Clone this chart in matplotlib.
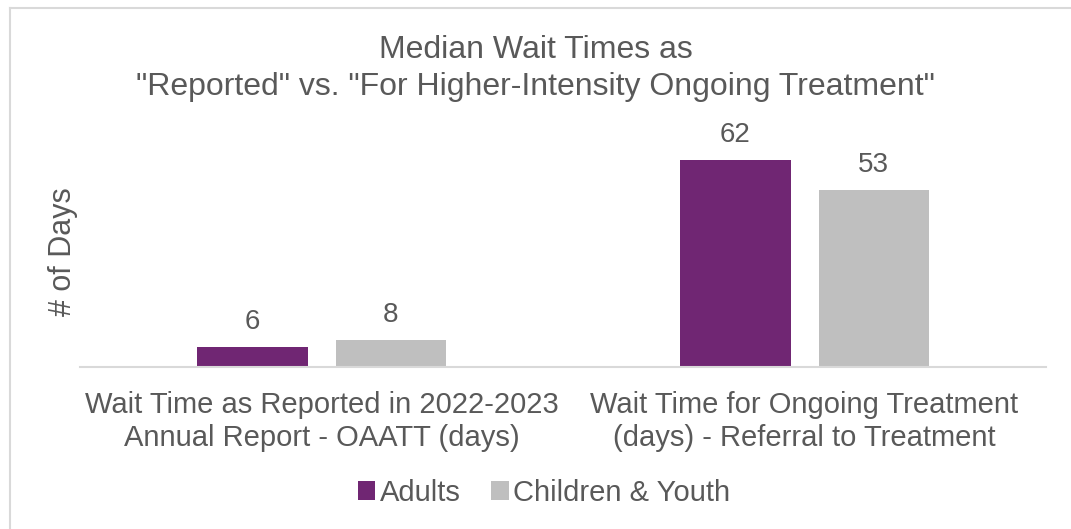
import matplotlib.pyplot as plt
import numpy as np
from matplotlib.lines import Line2D

plt.rcParams['font.family'] = ['Liberation Sans', 'DejaVu Sans']

categories = ["Wait Time as Reported in 2022-2023\nAnnual Report - OAATT (days)",
              "Wait Time for Ongoing Treatment\n(days) - Referral to Treatment"]
series_names = ["Adults", "Children & Youth"]
adults = [6, 62]
children = [8, 53]

text_color = "#595959"
colors = ["#702673", "#BFBFBF"]

fig = plt.figure(figsize=(10.71, 5.29), dpi=100)
ax = fig.add_axes([0.0747, 0.3062, 0.902, 0.4537])

x = np.arange(len(categories))
width = 0.228
offset = 0.143
for vals, name, col, sign in zip([adults, children], series_names, colors, [-1, 1]):
    bars = ax.bar(x + sign * offset, vals, width, color=col, label=name)
    for b, v in zip(bars, vals):
        ax.text(b.get_x() + b.get_width() / 2, v + 3.6, str(v), ha='center', va='bottom',
                fontsize=20, color=text_color)

ax.set_xlim(-0.5, 1.5)
ax.set_ylim(0, 71.8)
ax.set_xticks(x)
ax.set_xticklabels(categories, fontsize=21, color=text_color, linespacing=1.23)
ax.tick_params(axis='x', length=0, pad=17)
ax.set_yticks([])
for s in ['top', 'right', 'left']:
    ax.spines[s].set_visible(False)
ax.spines['bottom'].set_color('#D9D9D9')
ax.spines['bottom'].set_linewidth(1.5)

fig.text(0.059, 0.525, "# of Days", rotation=90, ha='center', va='center',
         fontsize=22, color=text_color)

fig.suptitle('Median Wait Times as\n"Reported" vs. "For Higher-Intensity Ongoing Treatment"',
             y=0.933, fontsize=23, color=text_color, linespacing=1.28)

leg = ax.legend(loc='center', bbox_to_anchor=(0.508, 0.068), bbox_transform=fig.transFigure,
                ncol=2, frameon=False, fontsize=21, handlelength=0.6, handleheight=0.6,
                handletextpad=0.15, columnspacing=1.05)
for t in leg.get_texts():
    t.set_color(text_color)

# chart border (left and top only visible)
fig.add_artist(Line2D([0.009, 0.009], [0, 0.985], transform=fig.transFigure,
                      color='#D9D9D9', lw=1.5))
fig.add_artist(Line2D([0.009, 1.0], [0.985, 0.985], transform=fig.transFigure,
                      color='#D9D9D9', lw=1.5))

fig.savefig("out.png", dpi=100)
